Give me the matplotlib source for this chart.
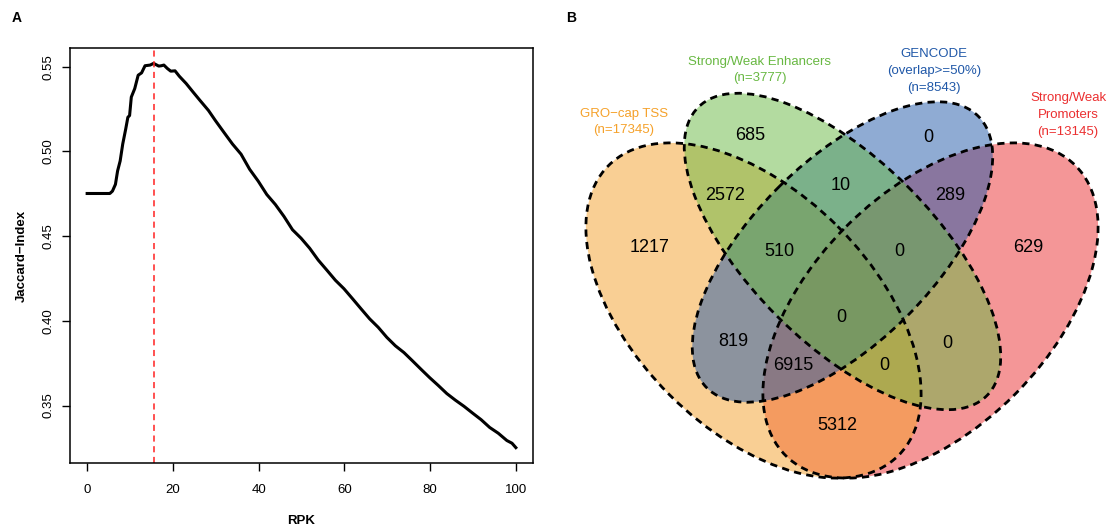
import matplotlib
matplotlib.use("Agg")
import matplotlib.pyplot as plt
from matplotlib.patches import Ellipse

plt.rcParams["font.family"] = ["Liberation Sans", "DejaVu Sans"]

# ---- panel A data: Jaccard index vs RPK threshold
rpk = [0, 1, 2, 3, 4, 5, 5.3, 5.9, 6.6, 7.1, 7.7, 8.3, 9.0, 9.5, 9.9, 10.3, 11.1,
       11.9, 12.7, 13.5, 14.7, 15.5, 16.7, 17.3, 17.9, 18.7, 19.5, 20.5, 21.5,
       23.1, 24.7, 26.3, 28.3, 29.9, 31.9, 33.9, 35.9, 37.9, 39.9, 41.9, 43.9,
       45.9, 47.9, 49.9, 51.9, 53.9, 55.9, 57.9, 59.9, 61.9, 63.9, 65.9, 67.9,
       69.9, 71.9, 73.9, 75.9, 77.9, 79.9, 81.9, 83.9, 85.9, 87.9, 89.9, 91.9,
       93.9, 95.9, 97.9, 99.1, 100]
jaccard = [0.4752, 0.4752, 0.4752, 0.4752, 0.4752, 0.4752, 0.4752, 0.4766, 0.4806,
           0.4885, 0.4944, 0.5044, 0.5133, 0.5202, 0.5212, 0.5321, 0.5371, 0.5450,
           0.5464, 0.5506, 0.5510, 0.5520, 0.5504, 0.5506, 0.5510, 0.5490, 0.5474,
           0.5476, 0.5444, 0.5401, 0.5351, 0.5302, 0.5242, 0.5183, 0.5113, 0.5044,
           0.4984, 0.4895, 0.4825, 0.4746, 0.4687, 0.4617, 0.4538, 0.4488, 0.4429,
           0.4359, 0.4300, 0.4240, 0.4190, 0.4131, 0.4071, 0.4012, 0.3962, 0.3903,
           0.3853, 0.3813, 0.3764, 0.3714, 0.3665, 0.3619, 0.3571, 0.3532, 0.3496,
           0.3456, 0.3417, 0.3371, 0.3337, 0.3294, 0.3278, 0.3252]
best_rpk = 15.5

# ---- panel B data: four-set Venn
set_names = ["Strong/Weak\nPromoters", "GRO\u2212cap TSS",
             "GENCODE\n(overlap>=50%)", "Strong/Weak Enhancers"]
set_sizes = [13145, 17345, 8543, 3777]
set_colors = ["#EB2F30", "#F5A12A", "#2058A8", "#68B842"]
# region counts (labels)
region_counts = [1217, 629, 0, 685, 2572, 10, 289, 510, 0, 0, 819, 6915, 0, 0, 5312]

W, H = 1107, 529
fig = plt.figure(figsize=(W / 100, H / 100), dpi=100)

# ---------------- panel A ----------------
x0, x1, y0, y1 = 70, 533, 48, 463
ax = fig.add_axes([x0 / W, 1 - y1 / H, (x1 - x0) / W, (y1 - y0) / H])
ax.plot(rpk, jaccard, color="black", lw=2.2, solid_joinstyle="round")
ax.axvline(best_rpk, color="#FF2020", lw=1.1, ls=(0, (4, 3)))
pad = 0.04 * (max(jaccard) - min(jaccard))
ax.set_xlim(-4, 104)
ax.set_ylim(min(jaccard) - pad, max(jaccard) + pad)
ax.set_xticks([0, 20, 40, 60, 80, 100])
ax.set_yticks([0.35, 0.40, 0.45, 0.50, 0.55])
ax.set_yticklabels(["0.35", "0.40", "0.45", "0.50", "0.55"], rotation=90, va="center")
ax.tick_params(axis="x", length=6, width=1, labelsize=9.5, pad=9, color="black")
ax.tick_params(axis="y", length=6, width=1, labelsize=9.5, pad=5, color="black")
for s in ax.spines.values():
    s.set_linewidth(1.1)
ax.set_xlabel("RPK", fontsize=9.5, fontweight="bold", labelpad=14)
ax.set_ylabel("Jaccard\u2212Index", fontsize=9.5, fontweight="bold", labelpad=11)
fig.text(12 / W, 1 - 18 / H, "A", fontsize=10, fontweight="bold", va="center", ha="left")
fig.text(566 / W, 1 - 18 / H, "B", fontsize=10, fontweight="bold", va="center", ha="left")

# ---------------- panel B ----------------
vx = 560
bx = fig.add_axes([vx / W, 0, (W - vx) / W, 1])
bx.set_xlim(vx, W)
bx.set_ylim(H, 0)
bx.set_axis_off()

# ellipse geometry in pixel space: (cx, cy, semi-major, semi-minor, angle)
geom = [
    (930.5, 310.5, 205, 119, -45),    # promoters
    (753.5, 310.5, 205, 119, 45),     # GRO-cap
    (842.5, 252.0, 192, 91, -45),     # GENCODE
    (842.5, 251.5, 204, 92, 45),      # enhancers
]
for (cx, cy, a, b, ang), col in zip(geom, set_colors):
    bx.add_patch(Ellipse((cx, cy), 2 * a, 2 * b, angle=ang, facecolor=col,
                         alpha=0.5, edgecolor="none"))
for cx, cy, a, b, ang in geom:
    bx.add_patch(Ellipse((cx, cy), 2 * a, 2 * b, angle=ang, fill=False,
                         edgecolor="black", lw=2.0, ls=(0, (2.6, 1.9))))

region_pos = [(650, 248), (1028, 248), (928, 137), (750, 136), (725, 195),
              (841, 186), (950, 195), (779, 251), (899, 251), (841, 318),
              (733, 342), (793, 366), (884, 366), (947, 343), (837, 425)]
for (px, py), n in zip(region_pos, region_counts):
    bx.text(px, py, str(n), fontsize=13, ha="center", va="center")

label_pos = [(1068, 115), (624, 122), (934, 71), (760, 70)]
for (px, py), name, n, col in zip(label_pos, set_names, set_sizes, set_colors):
    bx.text(px, py, f"{name}\n(n={n})", fontsize=9.5, ha="center", va="center",
            color=col, linespacing=1.55)

fig.savefig("out.png", dpi=100)
